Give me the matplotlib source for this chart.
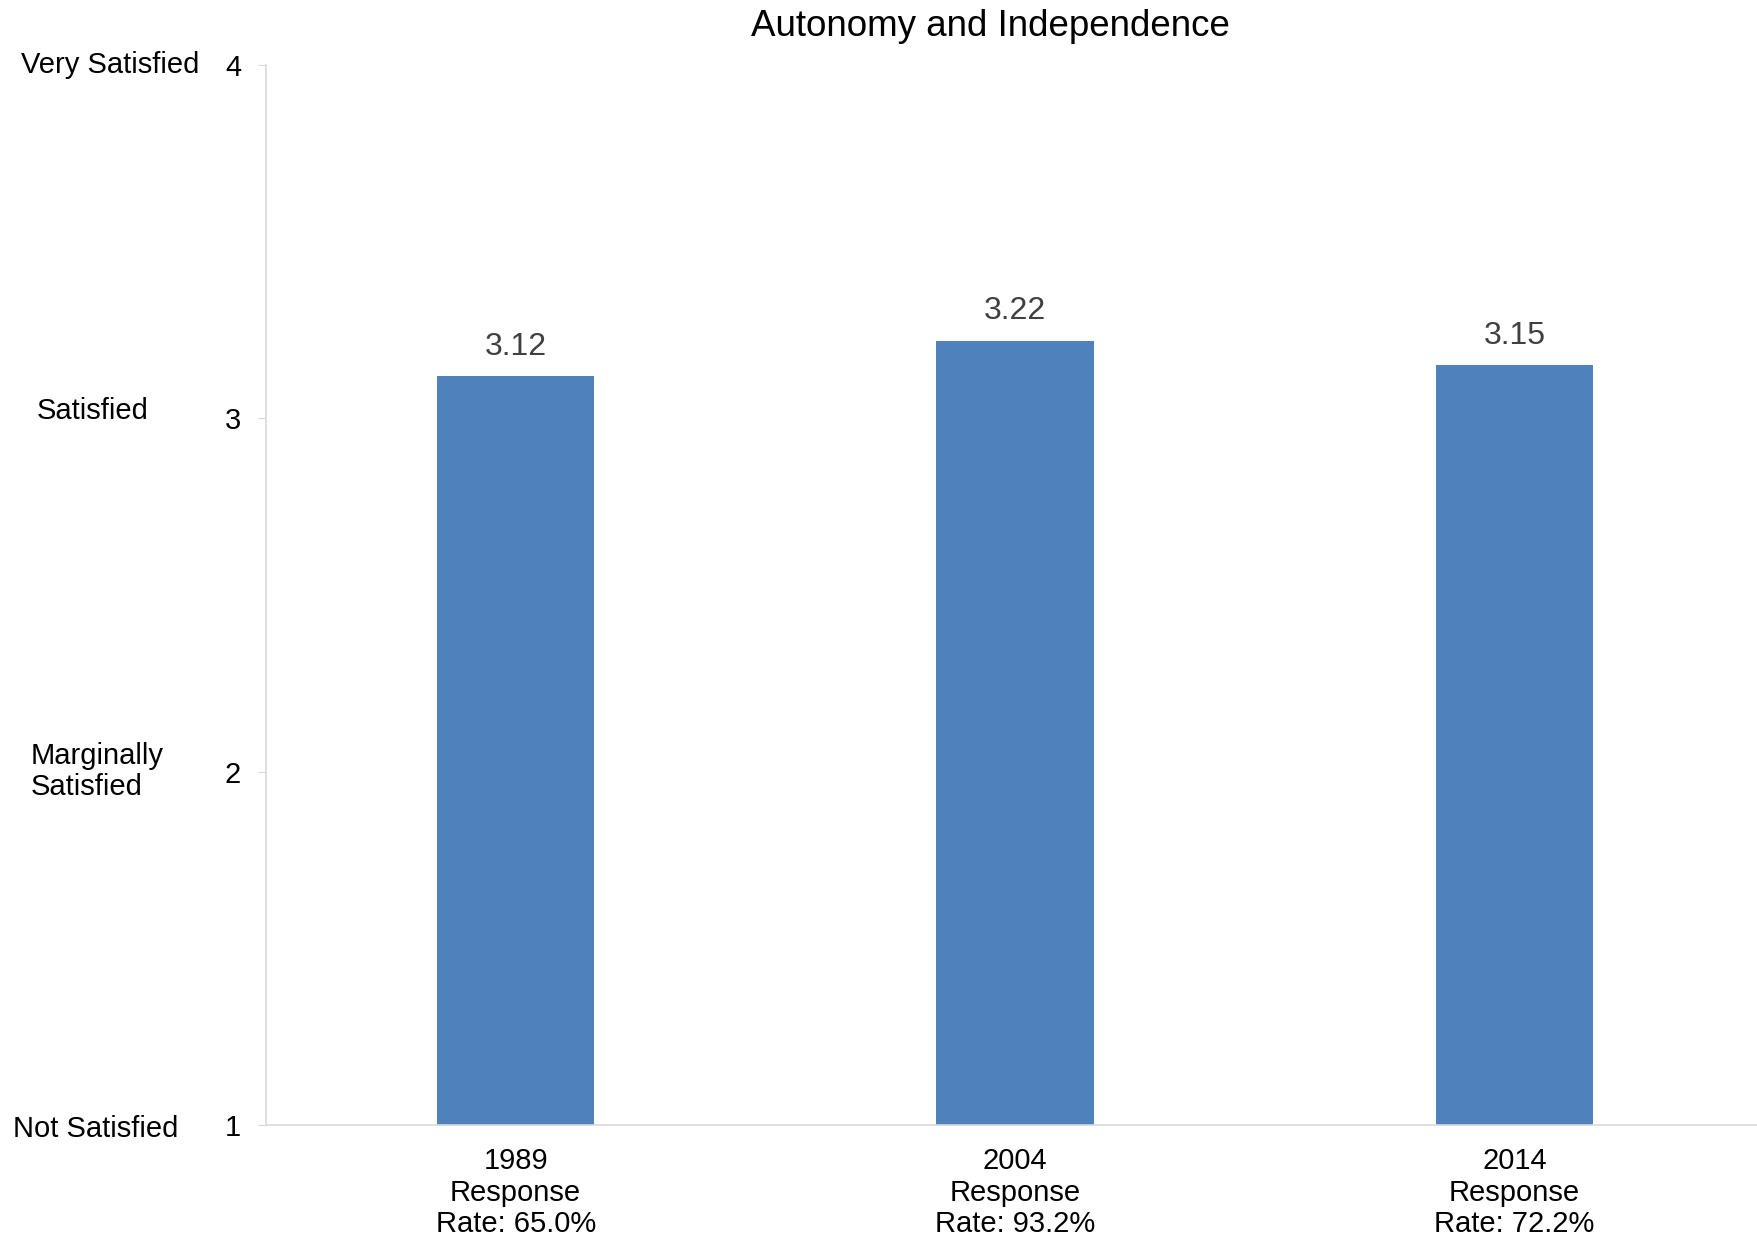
import numpy as np
import matplotlib.pyplot as plt
from matplotlib import transforms

plt.rcParams['font.family'] = ['Liberation Sans', 'DejaVu Sans']

# data
years = ['1989', '2004', '2014']
response_rates = [65.0, 93.2, 72.2]
scores = [3.12, 3.22, 3.15]
scale_values = [4, 3, 2, 1]
scale_names = ['Very Satisfied', 'Satisfied', 'Marginally\nSatisfied', 'Not Satisfied']

# layout of the scale names (figure x in pixels, small y nudges)
name_x_px = [110, 93, 97, 96]
name_dy = [0.0, 0.02, 0.0, -0.01]

W, H = 1758, 1240
fig = plt.figure(figsize=(W / 100, H / 100), dpi=100)
ax = fig.add_axes([266 / W, 1 - 1125 / H, (1764 - 266) / W, (1125 - 65) / H])

x = np.arange(len(years))
bars = ax.bar(x, [s - 1 for s in scores], bottom=1, width=0.315, color='#4F81BD')

for xi, s in zip(x, scores):
    ax.annotate(f'{s:.2f}', (xi, s), xytext=(0, 21), textcoords='offset points',
                ha='center', va='center', fontsize=23, color='#404040')

ax.set_xlim(-0.5, 2.5)
ax.set_ylim(1, 4)
ax.set_yticks(scale_values)
ax.set_yticklabels([str(v) for v in scale_values], fontsize=21)
ax.set_xticks(x)
ax.set_xticklabels([f'{y}\nResponse\nRate: {r:.1f}%' for y, r in zip(years, response_rates)],
                   fontsize=21, linespacing=1.15)
ax.tick_params(axis='x', length=0, pad=16)
ax.tick_params(axis='y', length=6, color='#d9d9d9', pad=12)

for side in ['top', 'right']:
    ax.spines[side].set_visible(False)
for side in ['left', 'bottom']:
    ax.spines[side].set_color('#d9d9d9')
    ax.spines[side].set_linewidth(1.2)

trans = transforms.blended_transform_factory(fig.transFigure, ax.transData)
for v, name, px, dy in zip(scale_values, scale_names, name_x_px, name_dy):
    fig.text(px / W, v + dy, name, transform=trans, ha='center', va='center',
             multialignment='left', fontsize=21, linespacing=1.15)

fig.text(990 / W, 1 - 27 / H, 'Autonomy and Independence', ha='center', va='center', fontsize=26.5)

fig.savefig('out.png', dpi=100)
